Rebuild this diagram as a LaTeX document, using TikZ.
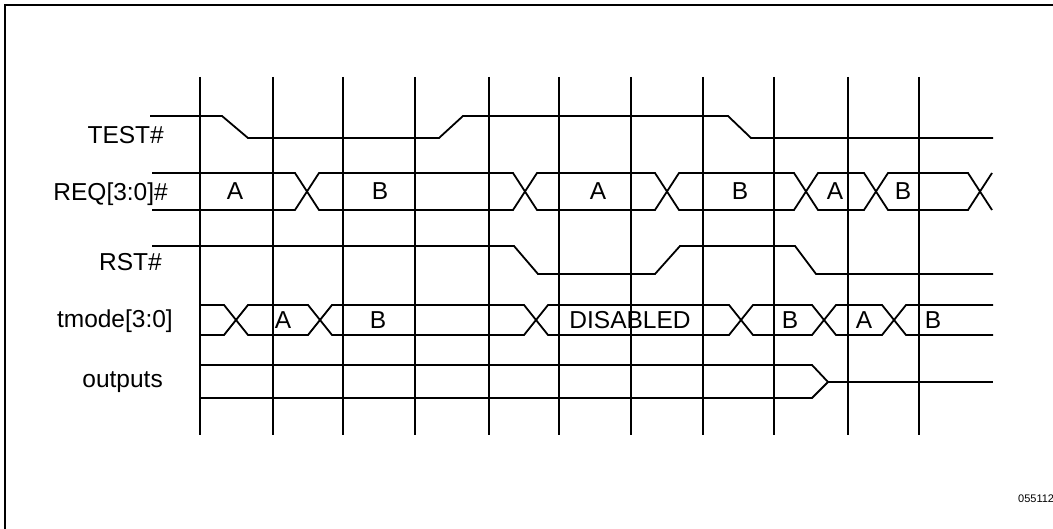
\documentclass[tikz,border=0pt]{standalone}
\usepackage{fontspec}
\setmainfont{Liberation Sans}
\begin{document}
\begin{tikzpicture}[x=1pt,y=-1pt,
  sig/.style={line width=1.8pt,line join=miter},
  grid/.style={line width=1.9pt},
  frame/.style={line width=2.6pt},
  lbl/.style={inner sep=0pt,anchor=base east,font=\fontsize{24.5}{28}\selectfont},
  val/.style={inner sep=0pt,anchor=base,font=\fontsize{24.5}{28}\selectfont},
  tiny/.style={inner sep=0pt,anchor=base west,font=\fontsize{11}{13}\selectfont}]
\useasboundingbox (0,0) rectangle (1053,529);
% frame
\draw[frame] (5,529) -- (5,5) -- (1053,5);
% vertical clock lines
\foreach \x in {200,273,343,415,489,559,631,703,774,848,919}
  \draw[grid] (\x,77) -- (\x,435);
% labels
\node[lbl] (ltest) at (164,144) {TEST\#};
\node[lbl] (lreq) at (168,201) {REQ[3:0]\#};
\node[lbl] (lrst) at (162,271) {RST\#};
\node[lbl] (ltmode) at (173,328) {tmode[3:0]};
\node[lbl] (lout) at (163,388) {outputs};
% TEST#
\draw[sig] (150,116) -- (222,116) -- (248,138) -- (439,138) -- (463,116) -- (728,116) -- (751,138) -- (993,138);
% REQ bus
\draw[sig] (152,173) -- (295,173) -- (319,210) -- (513,210) -- (537,173) -- (655,173) -- (679,210) -- (794,210) -- (818,173) -- (864,173) -- (888,210) -- (968,210) -- (992,173);
\draw[sig] (152,210) -- (295,210) -- (319,173) -- (513,173) -- (537,210) -- (655,210) -- (679,173) -- (794,173) -- (818,210) -- (864,210) -- (888,173) -- (968,173) -- (992,210);
\node[val] (r1) at (235,200) {A};
\node[val] (r2) at (380,200) {B};
\node[val] (r3) at (598,200) {A};
\node[val] (r4) at (740,200) {B};
\node[val] (r5) at (835,200) {A};
\node[val] (r6) at (903,200) {B};
% RST#
\draw[sig] (152,246) -- (514,246) -- (538,274) -- (655,274) -- (680,246) -- (795,246) -- (816,274) -- (993,274);
% tmode bus
\draw[sig] (200,305) -- (224,305) -- (248,335) -- (308,335) -- (332,305) -- (524,305) -- (548,335) -- (729,335) -- (753,305) -- (812,305) -- (836,335) -- (882,335) -- (906,305) -- (993,305);
\draw[sig] (200,335) -- (224,335) -- (248,305) -- (308,305) -- (332,335) -- (524,335) -- (548,305) -- (729,305) -- (753,335) -- (812,335) -- (836,305) -- (882,305) -- (906,335) -- (993,335);
\node[val] (t1) at (283,329) {A};
\node[val] (t2) at (378,329) {B};
\node[val] (t3) at (630,329) {DISABLED};
\node[val] (t4) at (790,329) {B};
\node[val] (t5) at (864,329) {A};
\node[val] (t6) at (933,329) {B};
% outputs
\draw[sig] (200,365) -- (812,365) -- (828,382) -- (812,398) -- (200,398);
\draw[sig] (828,382) -- (993,382);
% figure number
\node[tiny] (fig) at (1018,502) {055112};
\end{tikzpicture}
\end{document}
